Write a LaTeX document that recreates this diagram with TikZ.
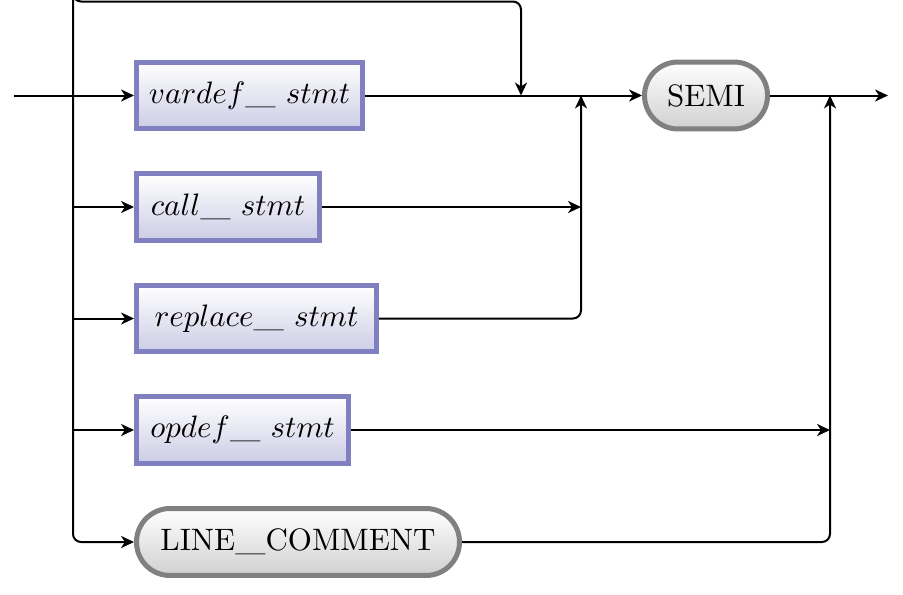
\documentclass[tikz,border=0pt]{standalone}
\usepackage{fontspec}
\usetikzlibrary{arrows.meta,shapes.misc}
\definecolor{ntborder}{RGB}{128,128,192}
\definecolor{ntbottom}{RGB}{204,204,230}
\definecolor{tborder}{RGB}{128,128,128}
\definecolor{tbottom}{RGB}{208,208,208}
\newcommand\usc{\scalebox{1.3}[1]{\_}}
\begin{document}
\begin{tikzpicture}[x=0.3226pt,y=-0.3226pt,
  line width=0.645pt,
  arr/.style={-{Stealth[length=4.2pt,width=3.9pt,inset=1.3pt]}},
  ntbox/.style={draw=ntborder,line width=1.613pt,top color=white,bottom color=ntbottom,
    minimum height=21.6pt,inner sep=0pt,anchor=west},
  tbox/.style={rounded rectangle,draw=tborder,line width=1.613pt,top color=white,bottom color=tbottom,
    minimum height=21.6pt,inner sep=0pt,anchor=west},
  rc/.style={rounded corners=2.6pt}]
\useasboundingbox (0,0) rectangle (903,594);
\node[ntbox,minimum width=72.9pt] (vardef) at (134,95.5) {$vardef\usc\ stmt$};
\node[ntbox,minimum width=59.0pt] (call) at (134,207) {$call\usc\ stmt$};
\node[ntbox,minimum width=77.4pt] (replace) at (134,318.5) {$replace\usc\ stmt$};
\node[ntbox,minimum width=68.4pt] (opdef) at (134,430) {$opdef\usc\ stmt$};
\node[tbox,minimum width=104.2pt] (lc) at (134,542) {LINE\usc COMMENT};
\node[tbox,minimum width=39.7pt] (semi) at (642,95.5) {SEMI};
\coordinate (start) at (14,95.5);
\coordinate (bus) at (73,95.5);
\coordinate (top) at (73,1.5);
\coordinate (skip) at (521,95.5);
\coordinate (join) at (581,95.5);
\coordinate (join2) at (830,95.5);
\coordinate (finish) at (888,95.5);
\draw[arr] (start) -- (vardef.west);
\draw[arr,rc] (bus) |- (top) -| (skip);
\draw[arr,rc] (bus) |- (lc.west);
\draw[arr] (call.west -| bus) -- (call.west);
\draw[arr] (replace.west -| bus) -- (replace.west);
\draw[arr] (opdef.west -| bus) -- (opdef.west);
\draw[arr] (vardef.east) -- (semi.west);
\draw[arr] (call.east) -- (call.east -| join);
\draw[arr,rc] (replace.east) -| (join);
\draw[arr] (semi.east) -- (finish);
\draw[arr] (opdef.east) -- (opdef.east -| join2);
\draw[arr,rc] (lc.east) -| (join2);
\end{tikzpicture}
\end{document}
